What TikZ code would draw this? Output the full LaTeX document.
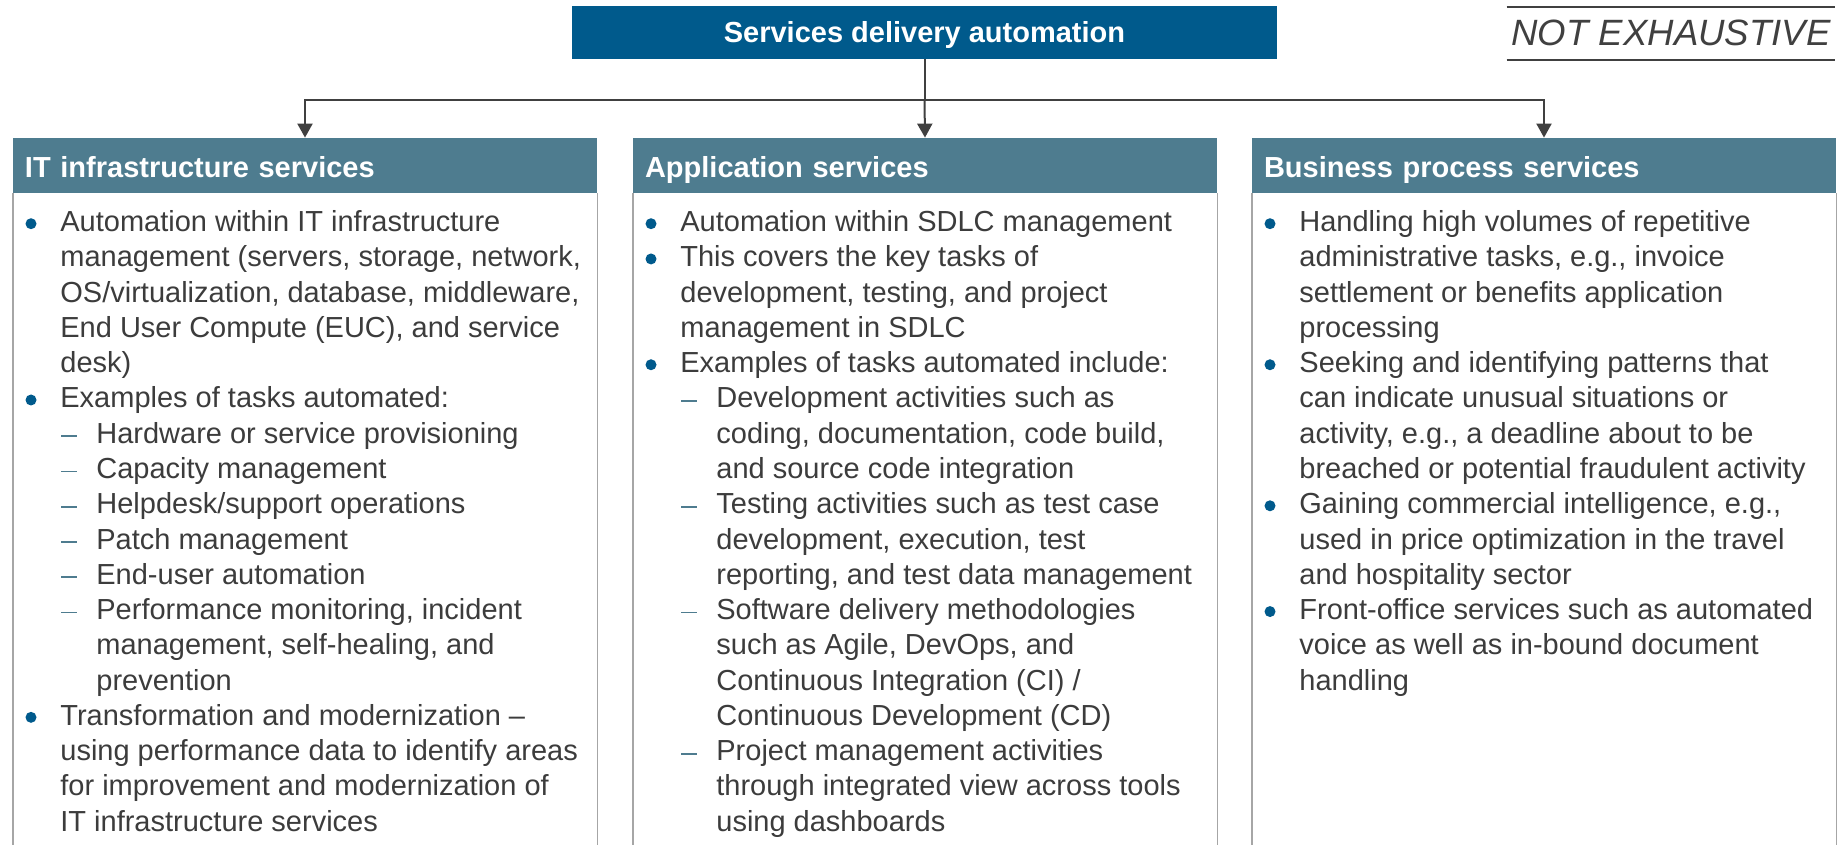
\documentclass[tikz,border=0pt]{standalone}
\usepackage{fontspec}
\setmainfont{Liberation Sans}
\usetikzlibrary{arrows.meta}
\definecolor{topblue}{HTML}{005A8C}
\definecolor{hdrblue}{HTML}{4E7C8F}
\definecolor{txtgray}{HTML}{3C3C3C}
\definecolor{framegray}{HTML}{A6A6A6}
\definecolor{conngray}{HTML}{404040}
\definecolor{bulblue}{HTML}{005A8C}
\definecolor{dashblue}{HTML}{4E7C8F}
\tikzset{
  bodytxt/.style={font=\fontsize{14.5pt}{17.6pt}\selectfont, text=txtgray, inner sep=0pt, anchor=base west},
  hdr/.style={fill=hdrblue, text=white, font=\fontsize{14.5pt}{17.6pt}\selectfont\bfseries,
    minimum width=292pt, minimum height=27.5pt, inner xsep=6pt, inner ysep=0pt, text width=280pt, align=left,
    text height=12.4pt, text depth=0.5pt},
  topbox/.style={fill=topblue, text=white, font=\fontsize{14.5pt}{17.6pt}\selectfont\bfseries,
    minimum width=352.5pt, minimum height=26.5pt, inner sep=0pt, text height=10.5pt, text depth=0pt},
  necls/.style={text=conngray, font=\fontsize{18.3pt}{20pt}\selectfont\itshape, minimum width=164pt, minimum height=26pt,
    inner sep=0pt, text height=13.5pt, text depth=1pt},
  neline/.style={draw=conngray, line width=1pt},
  frm/.style={draw=framegray, line width=0.9pt},
  conn/.style={draw=conngray, line width=1pt},
  arr/.style={conn, -{Triangle[width=7.5pt,length=7pt]}},
  bul/.style={fill=bulblue},
  dsh/.style={draw=dashblue, line width=0.9pt}
}
\newcommand\Bl[4]{\pgfmathsetmacro\yy{231.7+(#3-1)*35.26}\fill[bul] ({#2+18},{\yy-8}) circle (2.75pt); \node[bodytxt] (#1) at ({#2+47},\yy) {#4};}
\newcommand\Cl[4]{\pgfmathsetmacro\yy{231.7+(#3-1)*35.26}\node[bodytxt] (#1) at ({#2+47},\yy) {#4};}
\newcommand\Dl[4]{\pgfmathsetmacro\yy{231.7+(#3-1)*35.26}\draw[dsh] ({#2+48},{\yy-7}) -- ({#2+64},{\yy-7}); \node[bodytxt] (#1) at ({#2+83},\yy) {#4};}
\newcommand\El[4]{\pgfmathsetmacro\yy{231.7+(#3-1)*35.26}\node[bodytxt] (#1) at ({#2+83},\yy) {#4};}
\begin{document}
\begin{tikzpicture}[x=0.5pt,y=-0.5pt]
\useasboundingbox[fill=white] (0,0) rectangle (1843,845);

% top
\node[topbox] (top) at (924.5,32.5) {Services delivery automation};
\node[necls] (ne) at (1671,33.3) {NOT EXHAUSTIVE};
\draw[neline] (ne.north west) -- (ne.north east);
\draw[neline] (ne.south west) -- (ne.south east);

% headers
\node[hdr] (h1) at (305,165.5) {IT infrastructure services};
\node[hdr] (h2) at (925,165.5) {Application services};
\node[hdr] (h3) at (1544,165.5) {Business process services};

% frames
\coordinate (bottom) at (0,845);
\foreach \h in {h1,h2,h3}{
  \draw[frm] (\h.south west |- bottom) -- (\h.south west);
  \draw[frm] (\h.south east |- bottom) -- (\h.south east);
}

% connectors
\coordinate (hub) at (924.5,100);
\draw[conn] (top.south) -- (hub);
\draw[arr] (hub) -| (h1.north);
\draw[arr] (hub) -- (h2.north);
\draw[arr] (hub) -| (h3.north);

% left column
\Bl{l1}{13}{1}{Automation within IT infrastructure}
\Cl{l2}{13}{2}{management (servers, storage, network,}
\Cl{l3}{13}{3}{OS/virtualization, database, middleware,}
\Cl{l4}{13}{4}{End User Compute (EUC), and service}
\Cl{l5}{13}{5}{desk)}
\Bl{l6}{13}{6}{Examples of tasks automated:}
\Dl{l7}{13}{7}{Hardware or service provisioning}
\Dl{l8}{13}{8}{Capacity management}
\Dl{l9}{13}{9}{Helpdesk/support operations}
\Dl{l10}{13}{10}{Patch management}
\Dl{l11}{13}{11}{End-user automation}
\Dl{l12}{13}{12}{Performance monitoring, incident}
\El{l13}{13}{13}{management, self-healing, and}
\El{l14}{13}{14}{prevention}
\Bl{l15}{13}{15}{Transformation and modernization –}
\Cl{l16}{13}{16}{using performance data to identify areas}
\Cl{l17}{13}{17}{for improvement and modernization of}
\Cl{l18}{13}{18}{IT infrastructure services}

% middle column
\Bl{m1}{633}{1}{Automation within SDLC management}
\Bl{m2}{633}{2}{This covers the key tasks of}
\Cl{m3}{633}{3}{development, testing, and project}
\Cl{m4}{633}{4}{management in SDLC}
\Bl{m5}{633}{5}{Examples of tasks automated include:}
\Dl{m6}{633}{6}{Development activities such as}
\El{m7}{633}{7}{coding, documentation, code build,}
\El{m8}{633}{8}{and source code integration}
\Dl{m9}{633}{9}{Testing activities such as test case}
\El{m10}{633}{10}{development, execution, test}
\El{m11}{633}{11}{reporting, and test data management}
\Dl{m12}{633}{12}{Software delivery methodologies}
\El{m13}{633}{13}{such as Agile, DevOps, and}
\El{m14}{633}{14}{Continuous Integration (CI) /}
\El{m15}{633}{15}{Continuous Development (CD)}
\Dl{m16}{633}{16}{Project management activities}
\El{m17}{633}{17}{through integrated view across tools}
\El{m18}{633}{18}{using dashboards}

% right column
\Bl{r1}{1252}{1}{Handling high volumes of repetitive}
\Cl{r2}{1252}{2}{administrative tasks, e.g., invoice}
\Cl{r3}{1252}{3}{settlement or benefits application}
\Cl{r4}{1252}{4}{processing}
\Bl{r5}{1252}{5}{Seeking and identifying patterns that}
\Cl{r6}{1252}{6}{can indicate unusual situations or}
\Cl{r7}{1252}{7}{activity, e.g., a deadline about to be}
\Cl{r8}{1252}{8}{breached or potential fraudulent activity}
\Bl{r9}{1252}{9}{Gaining commercial intelligence, e.g.,}
\Cl{r10}{1252}{10}{used in price optimization in the travel}
\Cl{r11}{1252}{11}{and hospitality sector}
\Bl{r12}{1252}{12}{Front-office services such as automated}
\Cl{r13}{1252}{13}{voice as well as in-bound document}
\Cl{r14}{1252}{14}{handling}
\end{tikzpicture}
\end{document}
